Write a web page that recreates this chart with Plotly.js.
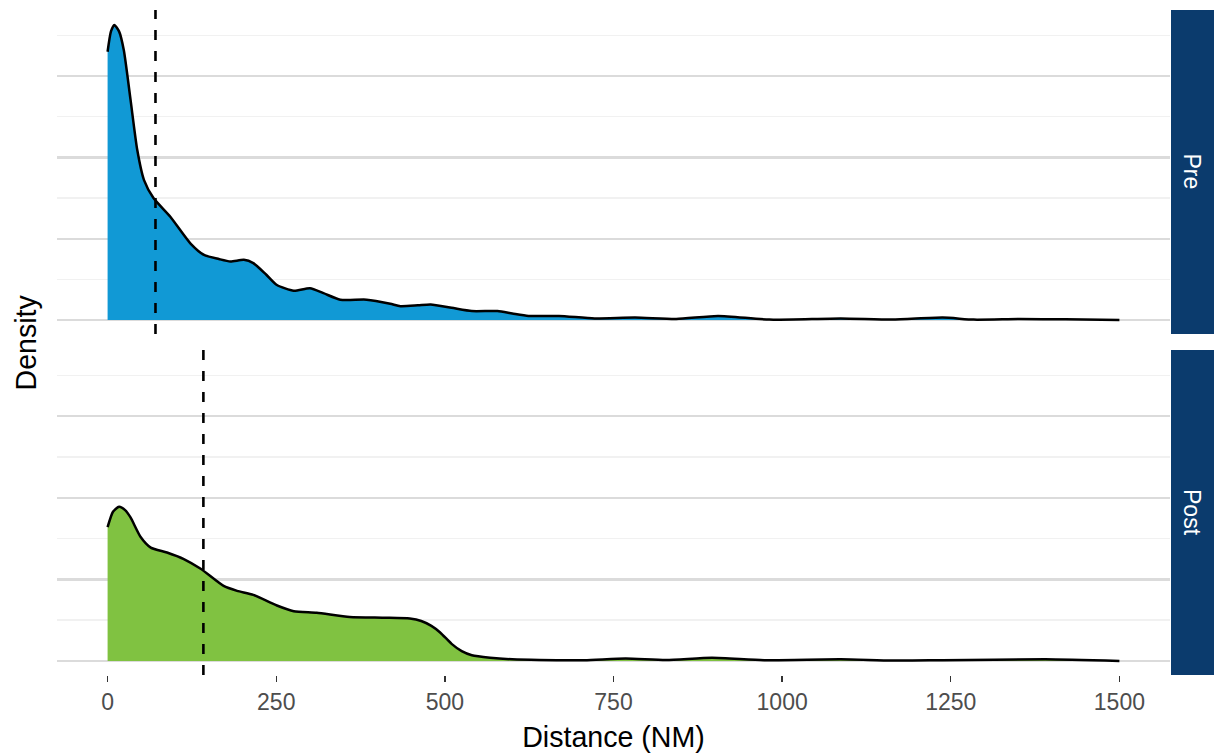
<!DOCTYPE html>
<html>
<head>
<meta charset="utf-8">
<script src="https://cdn.plot.ly/plotly-3.0.1.min.js"></script>
<style>html,body{margin:0;padding:0;background:#fff;}#chart{width:1214px;height:754px;}</style>
</head>
<body>
<div id="chart"></div>
<script>
// Panel labels
const panels = ["Pre", "Post"];
// Pre: density curve (x in NM, y in arbitrary density units)
const preX = [0, 5, 10, 17, 24, 34, 44, 54, 68, 93, 123, 143, 165, 182, 202, 216, 235, 251, 276, 300, 320, 345, 384, 419, 434, 460, 479, 510, 540, 578, 600, 624, 669, 722, 782, 843, 905, 981, 1087, 1163, 1238, 1284, 1352, 1420, 1500];
const preY = [3.30, 3.55, 3.63, 3.55, 3.32, 2.71, 2.09, 1.72, 1.50, 1.27, 0.94, 0.80, 0.75, 0.72, 0.74, 0.70, 0.56, 0.43, 0.36, 0.39, 0.33, 0.25, 0.25, 0.20, 0.17, 0.18, 0.19, 0.15, 0.11, 0.11, 0.08, 0.05, 0.05, 0.02, 0.03, 0.012, 0.05, 0.005, 0.02, 0.005, 0.03, 0.005, 0.012, 0.008, 0.0];
// Post: density curve
const postX = [0, 8, 17, 26, 34, 49, 64, 88, 113, 138, 172, 192, 216, 251, 276, 310, 359, 409, 448, 465, 480, 493, 510, 525, 540, 567, 600, 640, 707, 768, 828, 896, 973, 1087, 1163, 1238, 1390, 1500];
const postY = [1.64, 1.83, 1.89, 1.85, 1.76, 1.52, 1.39, 1.33, 1.25, 1.13, 0.92, 0.86, 0.81, 0.68, 0.61, 0.59, 0.54, 0.53, 0.52, 0.49, 0.43, 0.35, 0.21, 0.12, 0.07, 0.04, 0.02, 0.012, 0.01, 0.03, 0.012, 0.04, 0.01, 0.02, 0.005, 0.01, 0.02, 0.0];
// Mean distances (dashed lines)
const preMean = 71;
const postMean = 142;
// X tick values
const xTicks = [0, 250, 500, 750, 1000, 1250, 1500];

const font = "Liberation Sans, Arial, sans-serif";
const traces = [
  {x: preX, y: preY, xaxis: "x2", yaxis: "y2", type: "scatter", mode: "lines",
   fill: "tozeroy", fillcolor: "#1199D5", line: {color: "#000", width: 2.5, shape: "spline", smoothing: 0.6},
   hoverinfo: "skip", showlegend: false},
  {x: postX, y: postY, xaxis: "x", yaxis: "y", type: "scatter", mode: "lines",
   fill: "tozeroy", fillcolor: "#80C241", line: {color: "#000", width: 2.5, shape: "spline", smoothing: 0.6},
   hoverinfo: "skip", showlegend: false}
];

const yax = (domain) => ({
  domain: domain, range: [-0.172, 3.813], tick0: 0, dtick: 1,
  showticklabels: false, ticks: "", zeroline: false, showline: false,
  showgrid: true, gridcolor: "#DBDBDB", gridwidth: 2.2,
  minor: {dtick: 0.5, showgrid: true, gridcolor: "#F1F1F1", gridwidth: 1.4, ticks: ""},
  fixedrange: true
});

const stripX0 = (1171 - 57) / 1113, stripX1 = (1214 - 57) / 1113;
const layout = {
  width: 1214, height: 754,
  margin: {l: 57, r: 44, t: 10, b: 79},
  paper_bgcolor: "#fff", plot_bgcolor: "#fff",
  font: {family: font, color: "#000"},
  xaxis: {
    range: [-75, 1575], tickvals: xTicks, ticktext: xTicks.map(String),
    showgrid: false, zeroline: false, showline: false,
    ticks: "outside", ticklen: 6, tickwidth: 1.4, tickcolor: "#333",
    tickfont: {family: font, size: 23, color: "#4D4D4D"},
    title: {text: "Distance (NM)", font: {family: font, size: 28.6, color: "#000"}, standoff: 13},
    anchor: "y", fixedrange: true
  },
  xaxis2: {
    range: [-75, 1575], matches: "x", showticklabels: false, ticks: "",
    showgrid: false, zeroline: false, showline: false, anchor: "y2", fixedrange: true
  },
  yaxis: Object.assign(yax([0, 0.4887]), {anchor: "x"}),
  yaxis2: Object.assign(yax([0.5128, 1]), {anchor: "x2"}),
  shapes: [
    {type: "line", xref: "x2", yref: "y2 domain", x0: preMean, x1: preMean, y0: 0, y1: 1,
     line: {color: "#000", width: 2.6, dash: "10px,11px"}},
    {type: "line", xref: "x", yref: "y domain", x0: postMean, x1: postMean, y0: 0, y1: 1,
     line: {color: "#000", width: 2.6, dash: "10px,11px"}},
    {type: "rect", xref: "paper", yref: "paper", x0: stripX0, x1: stripX1, y0: 0.5128, y1: 1,
     fillcolor: "#0B3B6D", line: {width: 0}},
    {type: "rect", xref: "paper", yref: "paper", x0: stripX0, x1: stripX1, y0: 0, y1: 0.4887,
     fillcolor: "#0B3B6D", line: {width: 0}}
  ],
  annotations: [
    {text: panels[0], xref: "paper", yref: "paper", x: (stripX0 + stripX1) / 2, y: (0.5128 + 1) / 2,
     showarrow: false, textangle: 90, font: {family: font, size: 23, color: "#fff"}, xanchor: "center", yanchor: "middle"},
    {text: panels[1], xref: "paper", yref: "paper", x: (stripX0 + stripX1) / 2, y: 0.4887 / 2,
     showarrow: false, textangle: 90, font: {family: font, size: 23, color: "#fff"}, xanchor: "center", yanchor: "middle"},
    {text: "Density", xref: "paper", yref: "paper", x: (25 - 57) / 1113, y: 0.5,
     showarrow: false, textangle: -90, font: {family: font, size: 28.6, color: "#000"}, xanchor: "center", yanchor: "middle"}
  ]
};

Plotly.newPlot("chart", traces, layout, {displayModeBar: false, staticPlot: true});
</script>
</body>
</html>
